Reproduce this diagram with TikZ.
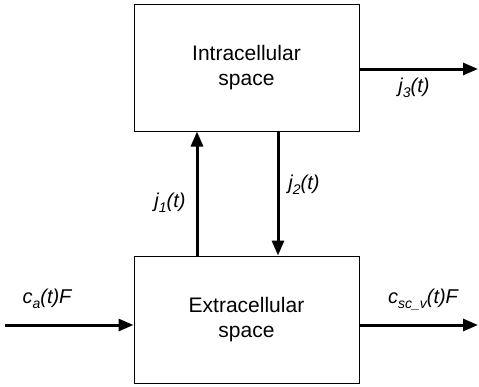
\documentclass[tikz,border=0pt]{standalone}
\usepackage{fontspec}
\setmainfont{Liberation Sans}
\usetikzlibrary{arrows.meta,positioning}
\newcommand{\lowsub}[1]{\raisebox{-5pt}{\fontsize{14}{14}\selectfont #1}}

\begin{document}
\begin{tikzpicture}[x=1pt,y=-1pt,>={Triangle[length=15pt,width=12pt]},
  comp/.style={draw,line width=1pt,minimum width=225pt,minimum height=127pt,
    align=center,font=\fontsize{21}{25}\selectfont},
  flux/.style={line width=3pt,->},
  lab/.style={font=\fontsize{20}{22}\selectfont\itshape}]
\useasboundingbox (0,0) rectangle (479,386);
\node[comp] (intra) at (246.5,67.5) {Intracellular\\space};
\node[comp] (extra) at (246.5,319.5) {Extracellular\\space};
\coordinate (src) at (5,325);
\coordinate (sink) at (478,325);
\coordinate (out3) at (478,69);
% fluxes between the two spaces
\draw[flux] ([xshift=-49.5pt]extra.north) -- ([xshift=-49.5pt]intra.south);
\draw[flux] ([xshift=31.5pt]intra.south) -- ([xshift=31.5pt]extra.north);
\draw[flux] (intra.east |- out3) -- (out3);
\draw[flux] (src) -- (src -| extra.west);
\draw[flux] (extra.east |- sink) -- (sink);
\node[lab] (j1) at (170,203) {j\lowsub{1}(t)};
\node[lab] (j2) at (304,185) {j\lowsub{2}(t)};
\node[lab] (j3) at (414,88) {j\lowsub{3}(t)};
\node[lab] (ca) at (47,299) {c\lowsub{a}(t)F};
\node[lab] (csc) at (423,300) {c\lowsub{sc\_v}(t)F};
\end{tikzpicture}
\end{document}
